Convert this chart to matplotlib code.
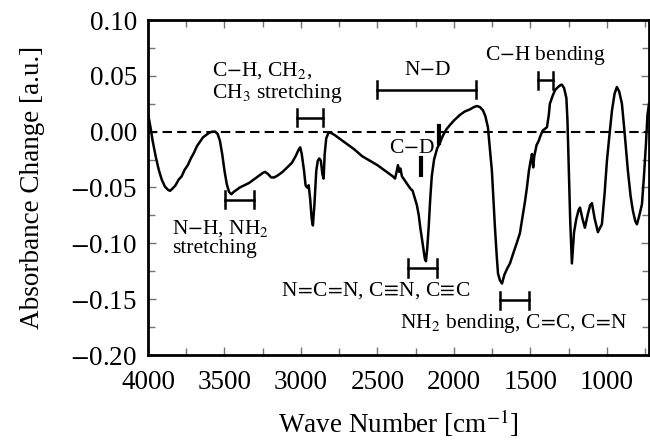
import matplotlib
matplotlib.use('Agg')
import matplotlib.pyplot as plt
from matplotlib.ticker import MultipleLocator

plt.rcParams['font.family'] = ['Liberation Serif', 'DejaVu Serif']
plt.rcParams['mathtext.fontset'] = 'stix'

# spectrum (wave number, absorbance change)
wavenumber = [
    4000, 3985, 3970, 3950, 3930, 3910, 3890, 3870, 3856, 3840, 3820, 3800,
    3780, 3760, 3740, 3720, 3700, 3680, 3660, 3640, 3620, 3600, 3580, 3560,
    3545, 3530, 3515, 3500, 3485, 3470, 3455, 3440, 3420, 3400, 3370, 3340,
    3310, 3280, 3250, 3235, 3215, 3195, 3175, 3150, 3120, 3090, 3060, 3035,
    3015, 3005, 2995, 2980, 2970, 2960, 2950, 2940, 2930, 2922, 2912, 2900,
    2890, 2880, 2870, 2860, 2852, 2845, 2835, 2820, 2805, 2780, 2750, 2700,
    2650, 2600, 2550, 2500, 2450, 2400, 2385, 2375, 2366, 2358, 2350, 2340,
    2320, 2300, 2285, 2270, 2255, 2242, 2230, 2220, 2205, 2190, 2183, 2175,
    2165, 2155, 2145, 2130, 2110, 2092, 2070, 2050, 2026, 2000, 1961, 1930,
    1895, 1870, 1850, 1830, 1810, 1795, 1778, 1765, 1752, 1740, 1732, 1720,
    1712, 1700, 1686, 1670, 1650, 1634, 1610, 1590, 1569, 1550, 1535, 1523,
    1510, 1500, 1490, 1482, 1475, 1460, 1445, 1438, 1420, 1392, 1380, 1373,
    1355, 1340, 1320, 1300, 1294, 1280, 1265, 1258, 1252, 1248, 1240, 1229,
    1215, 1200, 1185, 1176, 1160, 1144, 1125, 1110, 1098, 1080, 1059, 1045,
    1033, 1015, 1000, 985, 967, 950, 935, 920, 902, 885, 863, 845,
    830, 815, 804, 790, 771, 758, 745, 735, 725,
]
absorbance = [
    0.016, 0.005, -0.008, -0.022, -0.034, -0.043, -0.049, -0.052, -0.053, -0.051, -0.048, -0.043,
    -0.040, -0.034, -0.030, -0.024, -0.019, -0.013, -0.009, -0.005, -0.003, -0.001, 0.000, 0.000,
    -0.002, -0.008, -0.020, -0.035, -0.047, -0.054, -0.056, -0.054, -0.052, -0.050, -0.048, -0.046,
    -0.043, -0.040, -0.037, -0.036, -0.038, -0.041, -0.041, -0.039, -0.036, -0.032, -0.028, -0.022,
    -0.016, -0.014, -0.020, -0.035, -0.048, -0.050, -0.048, -0.060, -0.078, -0.084, -0.065, -0.035,
    -0.026, -0.024, -0.026, -0.038, -0.042, -0.020, -0.006, -0.001, -0.001, -0.003, -0.006, -0.011,
    -0.016, -0.022, -0.026, -0.030, -0.035, -0.040, -0.042, -0.036, -0.030, -0.036, -0.033, -0.040,
    -0.044, -0.048, -0.051, -0.053, -0.060, -0.066, -0.075, -0.086, -0.100, -0.114, -0.116, -0.105,
    -0.085, -0.060, -0.040, -0.025, -0.015, -0.010, -0.003, 0.002, 0.006, 0.010, 0.015, 0.018,
    0.020, 0.022, 0.023, 0.022, 0.019, 0.014, 0.004, -0.015, -0.035, -0.065, -0.086, -0.112,
    -0.127, -0.133, -0.136, -0.128, -0.122, -0.118, -0.108, -0.100, -0.091, -0.075, -0.062, -0.050,
    -0.035, -0.027, -0.020, -0.032, -0.022, -0.012, -0.008, -0.005, 0.001, 0.004, 0.015, 0.025,
    0.032, 0.037, 0.040, 0.042, 0.042, 0.039, 0.030, 0.010, -0.020, -0.041, -0.080, -0.118,
    -0.090, -0.078, -0.070, -0.068, -0.078, -0.086, -0.074, -0.066, -0.064, -0.078, -0.090, -0.086,
    -0.083, -0.055, -0.026, -0.005, 0.019, 0.034, 0.040, 0.036, 0.025, 0.000, -0.035, -0.058,
    -0.071, -0.080, -0.083, -0.076, -0.065, -0.040, -0.011, 0.015, 0.025,
]

# band brackets |---|
bracket_start = [3497, 3026, 2500, 1451, 2301, 1699]
bracket_end = [3307, 2856, 1856, 1353, 2111, 1510]
bracket_y = [-0.061, 0.0125, 0.0376, 0.046, -0.122, -0.151]

# C-D marks (short vertical bars)
cd_x = [2098, 2216]
cd_top = [0.005, -0.024]
cd_bottom = [-0.010, -0.039]

labels = [
    'N$-$H, NH$_2$\nstretching',
    'C$-$H, CH$_2$,\nCH$_3$ stretching',
    'N$-$D',
    'C$-$H bending',
    'C$-$D',
    'N$\\!=\\!$C$\\!=\\!$N, C$\\!\\equiv\\!$N, C$\\!\\equiv\\!$C',
    'NH$_2$ bending, C$\\!=\\!$C, C$\\!=\\!$N',
]
label_x = [3843, 3582, 2176, 1405, 2275, 2510, 1608]
label_y = [-0.077, 0.064, 0.055, 0.068, -0.015, -0.142, -0.172]
label_ha = ['left', 'left', 'center', 'center', 'center', 'center', 'center']
label_va = ['top', 'top', 'center', 'center', 'center', 'center', 'center']

yticks = [-0.20, -0.15, -0.10, -0.05, 0.00, 0.05, 0.10]
xticks = [4000, 3500, 3000, 2500, 2000, 1500, 1000]

fig = plt.figure(figsize=(6.5, 4.4), dpi=100)
ax = fig.add_axes([148 / 650, 85 / 440, 501 / 650, 335 / 440])

ax.plot(wavenumber, absorbance, color='black', lw=1.8)
ax.axhline(0, color='black', lw=1.5, ls=(0, (4.5, 2.5)))

cap = 0.0078
for x0, x1, y in zip(bracket_start, bracket_end, bracket_y):
    ax.plot([x0, x1], [y, y], color='black', lw=1.8)
    ax.plot([x0, x0], [y - cap, y + cap], color='black', lw=1.8)
    ax.plot([x1, x1], [y - cap, y + cap], color='black', lw=1.8)

for x, y0, y1 in zip(cd_x, cd_top, cd_bottom):
    ax.plot([x, x], [y0, y1], color='black', lw=3)

for t, x, y, ha, va in zip(labels, label_x, label_y, label_ha, label_va):
    ax.text(x, y, t, ha=ha, va=va, fontsize=15.5, linespacing=1.05)

ax.set_xlim(4000, 725)
ax.set_ylim(-0.20, 0.10)
ax.xaxis.set_minor_locator(MultipleLocator(250))
ax.yaxis.set_minor_locator(MultipleLocator(0.025))
ax.set_yticks(yticks)
ax.set_yticklabels([('$-$%.2f' % -v) if v < 0 else '%.2f' % v for v in yticks])
ax.set_xticks(xticks)

ax.tick_params(which='both', direction='in', top=True, right=True,
               color='0.45', width=1, labelsize=19.5)
ax.tick_params(which='major', length=6)
ax.tick_params(which='minor', length=5)
ax.tick_params(axis='x', pad=11)
ax.tick_params(axis='y', pad=8)
for s in ax.spines.values():
    s.set_linewidth(2)

ax.set_xlabel('Wave Number [cm$^{-1}$]', fontsize=19.5, labelpad=9)
ax.set_ylabel('Absorbance Change [a.u.]', fontsize=19.5, labelpad=18)

fig.savefig('out.png', dpi=100)
